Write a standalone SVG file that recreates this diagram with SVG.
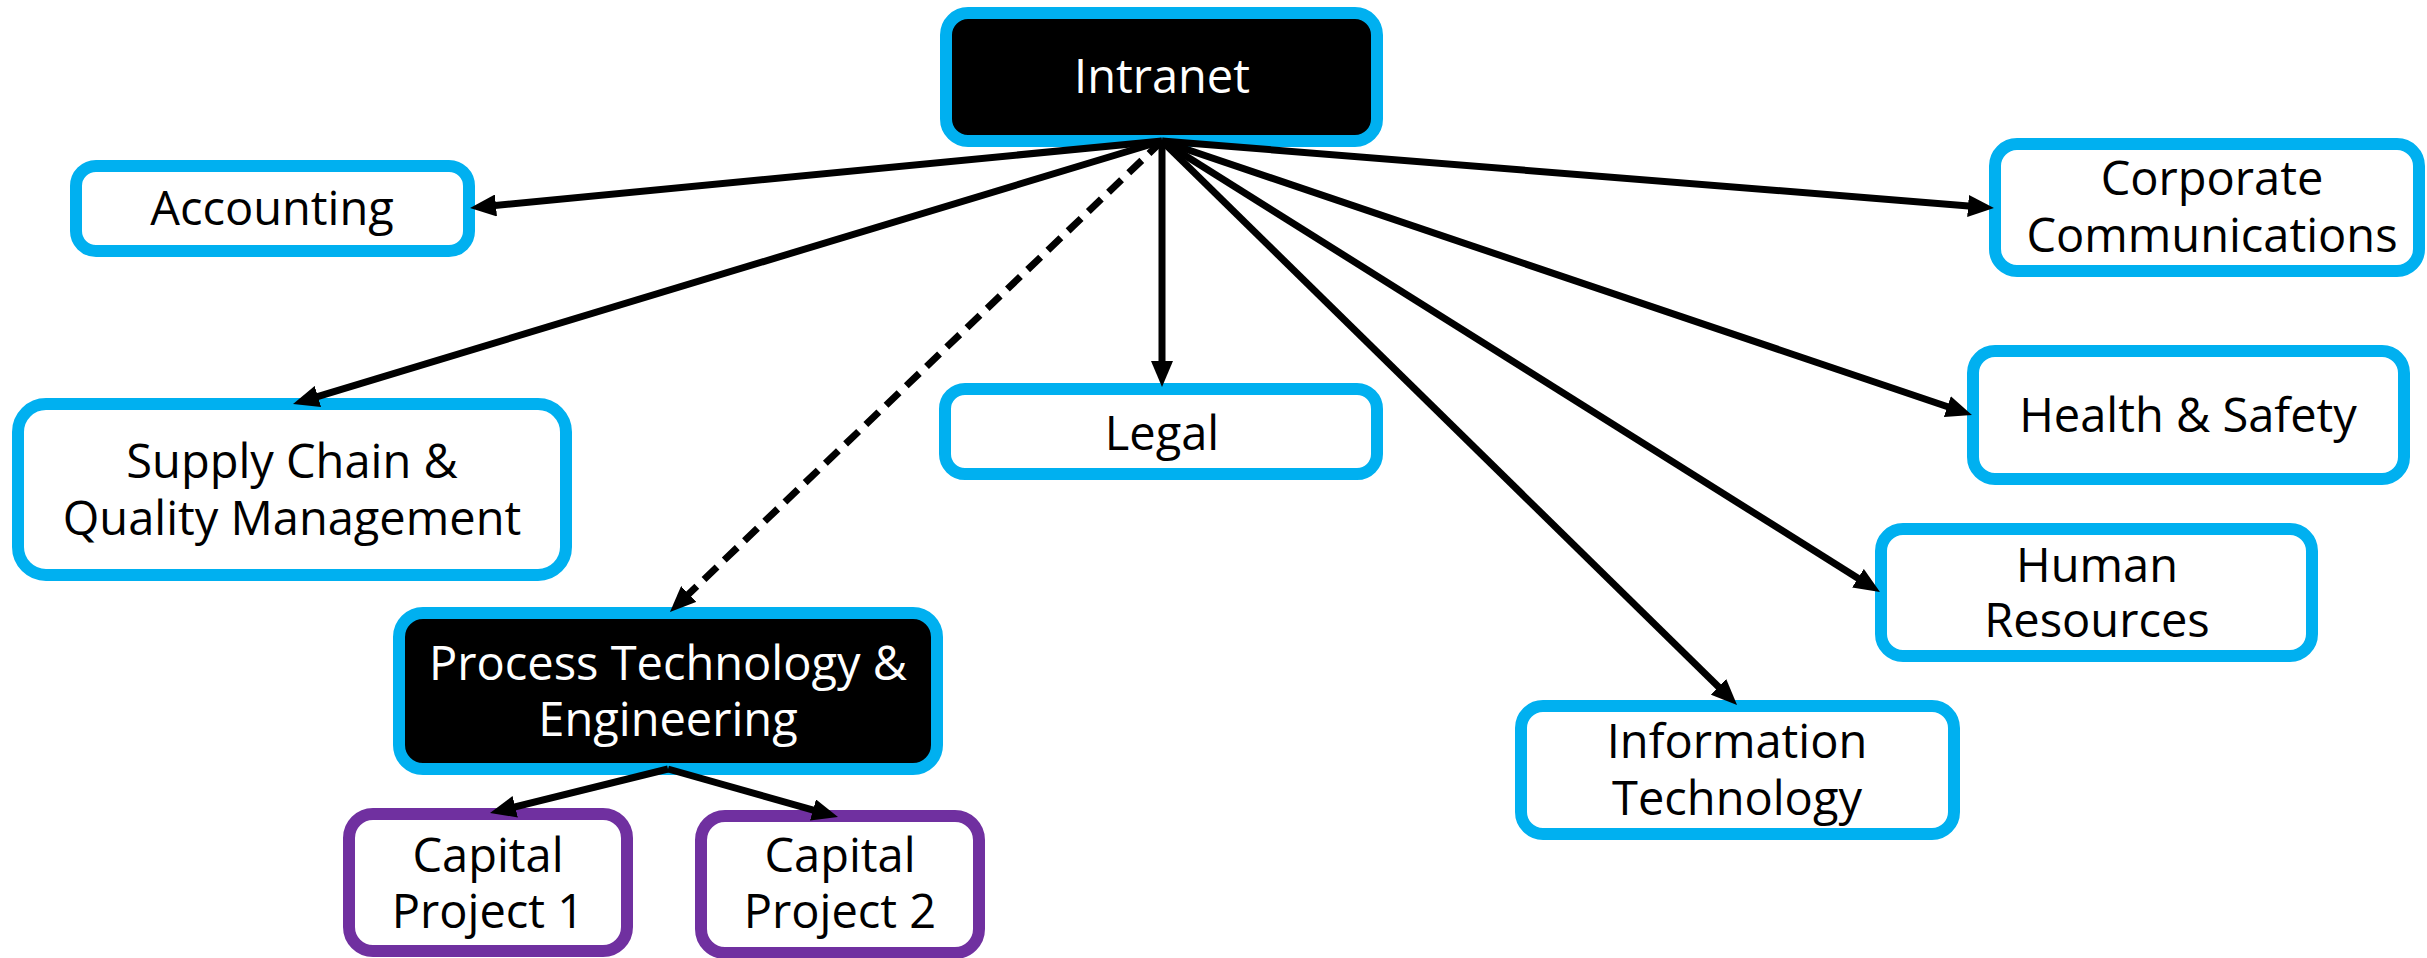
<svg xmlns="http://www.w3.org/2000/svg" width="2427" height="958" viewBox="0 0 2427 958">
<style>
.box{fill:#ffffff;stroke:#00B0F0;stroke-width:12}
.dark{fill:#000000;stroke:#00B0F0;stroke-width:12}
.cap{fill:#ffffff;stroke:#7030A0;stroke-width:12}
text{font-family:"Open Sans","Noto Sans","Liberation Sans",sans-serif;font-size:47px;text-anchor:middle;fill:#000000}
.wt{fill:#ffffff}
.edge{stroke:#000000;stroke-width:7;fill:none}
.dash{stroke-dasharray:18 10}
</style>
<defs>
<marker id="arr" markerUnits="userSpaceOnUse" markerWidth="26" markerHeight="22" refX="16" refY="11" orient="auto">
<path d="M0,0 L26,11 L0,22 z" fill="#000000"/>
</marker>
</defs>
<rect width="2427" height="958" fill="#ffffff"/>
<g id="intranet"><rect class="dark" x="946" y="13" width="431" height="128" rx="22"/><text class="wt" x="1162" y="93">Intranet</text></g>
<g id="accounting"><rect class="box" x="76" y="166" width="393" height="85" rx="20"/><text x="272" y="225">Accounting</text></g>
<g id="supply"><rect class="box" x="18" y="404" width="548" height="171" rx="28"/><text x="292" y="478">Supply Chain &amp;</text><text x="292" y="535">Quality Management</text></g>
<g id="legal"><rect class="box" x="945" y="389" width="432" height="85" rx="20"/><text x="1162" y="450">Legal</text></g>
<g id="process"><rect class="dark" x="399" y="613" width="538" height="156" rx="24"/><text class="wt" x="668" y="680">Process Technology &amp;</text><text class="wt" x="668" y="736">Engineering</text></g>
<g id="cap1"><rect class="cap" x="349" y="814" width="278" height="137" rx="24"/><text x="488" y="872">Capital</text><text x="488" y="928">Project 1</text></g>
<g id="cap2"><rect class="cap" x="701" y="816" width="278" height="137" rx="24"/><text x="840" y="872">Capital</text><text x="840" y="928">Project 2</text></g>
<g id="corpcomm"><rect class="box" x="1995" y="144" width="424" height="127" rx="22"/><text x="2212" y="195">Corporate</text><text x="2212" y="252">Communications</text></g>
<g id="health"><rect class="box" x="1973" y="351" width="431" height="128" rx="22"/><text x="2188" y="432">Health &amp; Safety</text></g>
<g id="hr"><rect class="box" x="1881" y="529" width="431" height="127" rx="22"/><text x="2097" y="582">Human</text><text x="2097" y="637">Resources</text></g>
<g id="it"><rect class="box" x="1521" y="706" width="433" height="128" rx="22"/><text x="1737" y="758">Information</text><text x="1737" y="815">Technology</text></g>
<g id="connectors">
<line class="edge" x1="1162" y1="141" x2="480" y2="207" marker-end="url(#arr)"/>
<line class="edge" x1="1162" y1="141" x2="302.6" y2="401.1" marker-end="url(#arr)"/>
<line class="edge dash" x1="1162" y1="141" x2="677.2" y2="605.1" marker-end="url(#arr)"/>
<line class="edge" x1="1162" y1="141" x2="1162" y2="377" marker-end="url(#arr)"/>
<line class="edge" x1="1162" y1="141" x2="1729.9" y2="698" marker-end="url(#arr)"/>
<line class="edge" x1="1162" y1="141" x2="1871.5" y2="586.7" marker-end="url(#arr)"/>
<line class="edge" x1="1162" y1="141" x2="1962.5" y2="411.8" marker-end="url(#arr)"/>
<line class="edge" x1="1162" y1="141" x2="1984" y2="207.2" marker-end="url(#arr)"/>
<line class="edge" x1="668" y1="769" x2="499.7" y2="810.6" marker-end="url(#arr)"/>
<line class="edge" x1="668" y1="769" x2="828.4" y2="814.3" marker-end="url(#arr)"/>
</g>
</svg>
